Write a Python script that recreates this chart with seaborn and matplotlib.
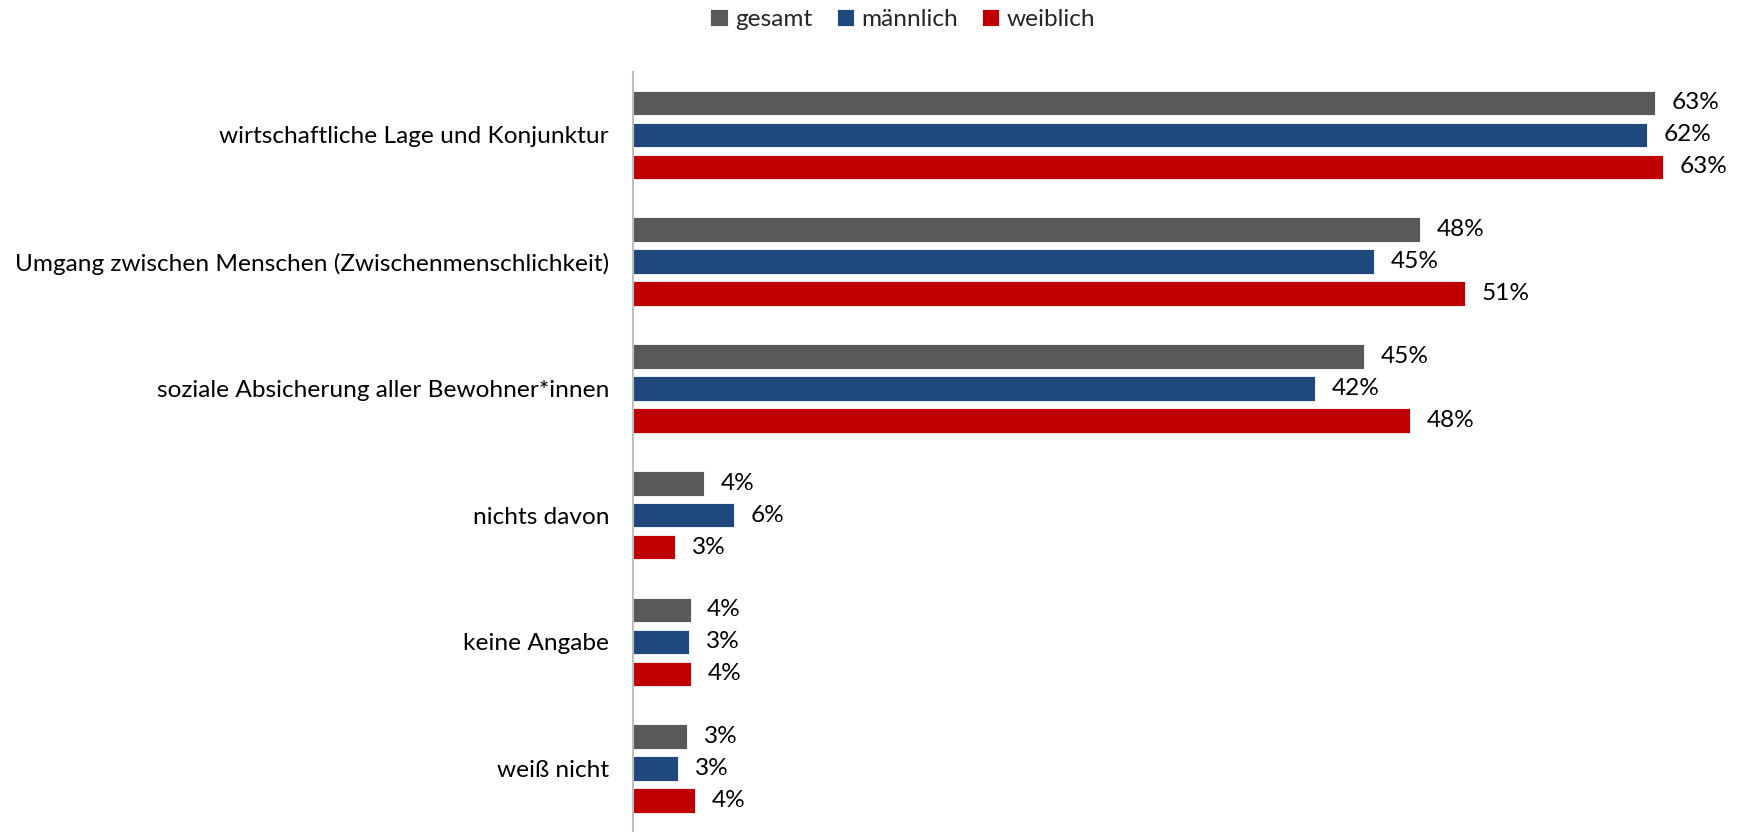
import matplotlib
matplotlib.use("Agg")
import matplotlib.pyplot as plt
import seaborn as sns
import pandas as pd

categories = [
    "wirtschaftliche Lage und Konjunktur",
    "Umgang zwischen Menschen (Zwischenmenschlichkeit)",
    "soziale Absicherung aller Bewohner*innen",
    "nichts davon",
    "keine Angabe",
    "weiß nicht",
]
series = ["gesamt", "männlich", "weiblich"]
gesamt = [62.6, 48.2, 44.8, 4.35, 3.54, 3.33]
maennlich = [62.1, 45.4, 41.8, 6.2, 3.47, 2.79]
weiblich = [63.1, 50.95, 47.6, 2.6, 3.6, 3.8]
colors = ["#595959", "#1F497D", "#C00000"]

rows = []
for name, vals in zip(series, [gesamt, maennlich, weiblich]):
    for c, v in zip(categories, vals):
        rows.append({"Kategorie": c, "Gruppe": name, "Wert": v})
df = pd.DataFrame(rows)

sns.set_style("white")
plt.rcParams["font.family"] = ["Lato", "DejaVu Sans"]
FS = 17.6

fig = plt.figure(figsize=(17.43, 8.32), dpi=100)
ax = fig.add_axes([0.363, 0.0, 0.637, 0.914])

sns.barplot(data=df, y="Kategorie", x="Wert", hue="Gruppe", order=categories,
            hue_order=series, palette=colors, saturation=1, orient="h",
            width=0.756, gap=0.23, edgecolor="white", linewidth=0.6, ax=ax,
            legend=True)

for cont in ax.containers:
    ax.bar_label(cont, fmt="{:.0f}%", padding=12, fontsize=FS, color="black")

ax.set_xlim(0, 68)
ax.set_ylim(5.5, -0.5)
ax.set_xlabel("")
ax.set_ylabel("")
ax.set_xticks([])
ax.tick_params(axis="y", length=0, pad=17, labelsize=FS, labelcolor="black")
for s in ["top", "right", "bottom"]:
    ax.spines[s].set_visible(False)
ax.spines["left"].set_color("#BFBFBF")
ax.spines["left"].set_linewidth(1.5)

handles, labels = ax.get_legend_handles_labels()
ax.get_legend().remove()
fig.legend(handles, labels, loc="center", bbox_to_anchor=(0.518, 0.977), ncol=3,
           frameon=False, fontsize=FS, handlelength=0.7, handleheight=0.7,
           handletextpad=0.3, columnspacing=1.0)

fig.savefig("out.png", dpi=100)
